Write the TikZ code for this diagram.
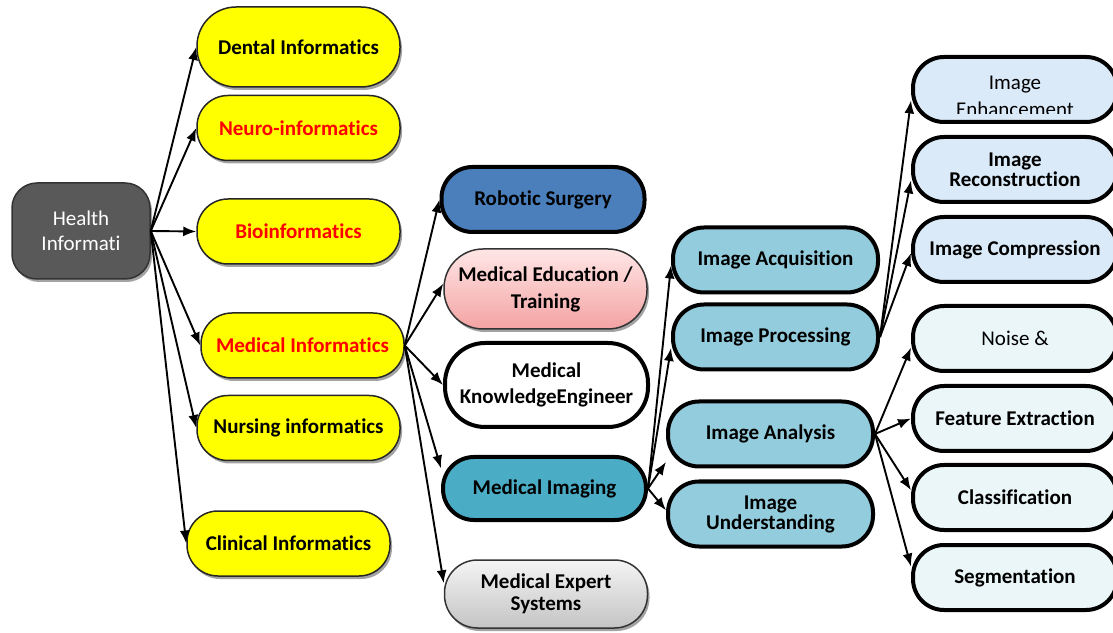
\documentclass[tikz,border=0pt]{standalone}
\usepackage{fontspec}
\setmainfont{Carlito}[Ligatures={NoCommon}]
\usetikzlibrary{positioning, arrows.meta, shadows}
\definecolor{rootGray}{HTML}{595959}
\definecolor{fieldYellow}{HTML}{FFFF00}
\definecolor{fieldRed}{HTML}{FF0000}
\definecolor{roboBlue}{HTML}{4A7FBC}
\definecolor{eduTop}{HTML}{FFE6E6}
\definecolor{eduBottom}{HTML}{F4A3A3}
\definecolor{imagingTeal}{HTML}{4BACC6}
\definecolor{expertTop}{HTML}{F4F4F4}
\definecolor{expertBottom}{HTML}{C4C4C4}
\definecolor{stepBlue}{HTML}{93CDDD}
\definecolor{detailBlue}{HTML}{DBEAF8}
\definecolor{detailCyan}{HTML}{EBF6F9}
\tikzset{%
  >={Latex[length=13pt,width=10pt]},
  % Specifications for style of nodes:
        base/.style = {rectangle, rounded corners=31pt, draw=black,
                       minimum width=203pt, minimum height=65pt,
                       inner sep=0pt, align=center,
                       font=\fontsize{21}{26}\selectfont\bfseries},
  castShadow/.style = {drop shadow={shadow xshift=2pt, shadow yshift=-3pt,
                       fill=black!45, opacity=.8}},
     rootBox/.style = {base, rounded corners=25pt, minimum width=138pt,
                       minimum height=96pt, fill=rootGray, draw=black!80,
                       line width=1.5pt, text=white, castShadow,
                       font=\fontsize{21}{25}\selectfont},
    fieldBox/.style = {base, fill=fieldYellow, draw=black!85,
                       line width=1.5pt, castShadow},
     redText/.style = {text=fieldRed},
     areaBox/.style = {base, line width=4pt},
    thinArea/.style = {base, line width=1.5pt, draw=black!80, castShadow},
     stepBox/.style = {base, minimum width=205pt, fill=stepBlue,
                       line width=4pt},
   detailBox/.style = {base, minimum width=204pt, fill=detailCyan,
                       line width=4pt},
}

\begin{document}
\begin{tikzpicture}[x=1pt, y=1pt, node distance=80pt, line width=1.9pt]
  \useasboundingbox (0,0) rectangle (1113,632);
  \clip (0,0) rectangle (1113,632);
  % Specification of nodes (position, etc.)
  \node (HealthInfo)   [rootBox] at (81,401)            {Health\\Informati};
  \node (DentalInfo)   [fieldBox, minimum height=80pt, rounded corners=39pt]
                       at (298.5,585)                   {Dental Informatics};
  \node (NeuroInfo)    [fieldBox, redText, below of=DentalInfo, yshift=-1pt]
                                                        {Neuro-informatics};
  \node (BioInfo)      [fieldBox, redText, below of=NeuroInfo, yshift=-23.5pt]
                                                        {Bioinformatics};
  \node (MedicalInfo)  [fieldBox, redText, below of=BioInfo, yshift=-34pt,
                        xshift=4pt]                     {Medical Informatics};
  \node (NursingInfo)  [fieldBox, below of=MedicalInfo, yshift=-2.5pt,
                        xshift=-4pt]                    {Nursing informatics};
  \node (ClinicalInfo) [fieldBox, below of=NursingInfo, yshift=-35.5pt,
                        xshift=-10pt]                   {Clinical Informatics};
  % medical informatics areas
  \node (RoboSurgery)  [areaBox, fill=roboBlue] at (543,432.5)
                                                        {Robotic Surgery};
  \node (MedEducation) [thinArea, top color=eduTop, bottom color=eduBottom,
                        minimum height=80pt, rounded corners=39pt,
                        font=\fontsize{21}{27}\selectfont\bfseries,
                        below of=RoboSurgery, yshift=-9.5pt, xshift=2.5pt]
                                                  {Medical Education /\\Training};
  \node (MedKnowledge) [areaBox, fill=white, minimum height=84pt,
                        rounded corners=40pt, below of=MedEducation,
                        yshift=-16pt, xshift=1pt]
                                               {Medical\\KnowledgeEngineer};
  \node (MedImaging)   [areaBox, fill=imagingTeal, minimum height=63pt,
                        below of=MedKnowledge, yshift=-23.5pt, xshift=-2pt]
                                                        {Medical Imaging};
  \node (MedExpert)    [thinArea, top color=expertTop,
                        bottom color=expertBottom, minimum height=68pt,
                        rounded corners=33pt,
                        font=\fontsize{21}{22}\selectfont\bfseries,
                        below of=MedImaging, yshift=-25.5pt, xshift=1.5pt]
                                                  {Medical Expert\\Systems};
  % imaging steps
  \node (ImgAcquire)   [stepBox] at (775.5,372)          {Image Acquisition};
  \node (ImgProcess)   [stepBox, below of=ImgAcquire, yshift=3pt]
                                                        {Image Processing};
  \node (ImgAnalysis)  [stepBox, below of=ImgProcess, yshift=-17pt,
                        xshift=-5pt]                    {Image Analysis};
  \node (ImgUnderstand)[stepBox, below of=ImgAnalysis,
                        font=\fontsize{21}{20}\selectfont\bfseries]
                                                  {Image\\Understanding};
  % processing and analysis details
  \node (ImgEnhance)   [detailBox, fill=detailBlue] at (1015,542.5) {};
  \node (ImgRecon)     [detailBox, fill=detailBlue, below of=ImgEnhance,
                        font=\fontsize{21}{20}\selectfont\bfseries]
                                                  {Image\\Reconstruction};
  \node (ImgCompress)  [detailBox, fill=detailBlue, below of=ImgRecon]
                                                        {Image Compression};
  \node (NoiseRemove)  [detailBox, below of=ImgCompress, yshift=-9pt,
                        font=\fontsize{21}{26}\selectfont]   {Noise \&};
  \node (FeatExtract)  [detailBox, below of=NoiseRemove]  {Feature Extraction};
  \node (Classify)     [detailBox, below of=FeatExtract, yshift=1pt]
                                                        {Classification};
  \node (Segment)      [detailBox, below of=Classify]    {Segmentation};
  % text of the enhancement box is cut at its lower part
  \begin{scope}
    \clip ([yshift=10pt]ImgEnhance.south west) rectangle (ImgEnhance.north east);
    \node (ImgEnhanceText) [font=\fontsize{21}{26.5}\selectfont, align=center,
                            yshift=-7pt] at (ImgEnhance) {Image\\Enhancement};
  \end{scope}
  % Specification of lines between nodes specified above
  \draw[->]    (HealthInfo.east) -- (DentalInfo.west);
  \draw[->]    (HealthInfo.east) -- (NeuroInfo.west);
  \draw[->]    (HealthInfo.east) -- (BioInfo.west);
  \draw[->]    (HealthInfo.east) -- (MedicalInfo.west);
  \draw[->]    (HealthInfo.east) -- (NursingInfo.west);
  \draw[->]    (HealthInfo.east) -- (ClinicalInfo.west);
  \draw[->]   (MedicalInfo.east) -- (RoboSurgery.west);
  \draw[->]   (MedicalInfo.east) -- (MedEducation.177);
  \draw[->]   (MedicalInfo.east) -- (MedKnowledge.west);
  \draw[->]   (MedicalInfo.east) -- (MedImaging.169);
  \draw[->]   (MedicalInfo.east) -- (MedExpert.174);
  \draw[->]    (MedImaging.east) -- (ImgAcquire.183);
  \draw[->]    (MedImaging.east) -- (ImgProcess.186);
  \draw[->]    (MedImaging.east) -- (ImgAnalysis.195);
  \draw[->]    (MedImaging.east) -- (ImgUnderstand.178);
  \draw[->]    (ImgProcess.east) -- (ImgEnhance.186);
  \draw[->]    (ImgProcess.east) -- (ImgRecon.186);
  \draw[->]    (ImgProcess.east) -- (ImgCompress.182);
  \draw[->]   (ImgAnalysis.east) -- (NoiseRemove.185);
  \draw[->]   (ImgAnalysis.east) -- (FeatExtract.west);
  \draw[->]   (ImgAnalysis.east) -- (Classify.176);
  \draw[->]   (ImgAnalysis.east) -- (Segment.174);
\end{tikzpicture}
\end{document}
